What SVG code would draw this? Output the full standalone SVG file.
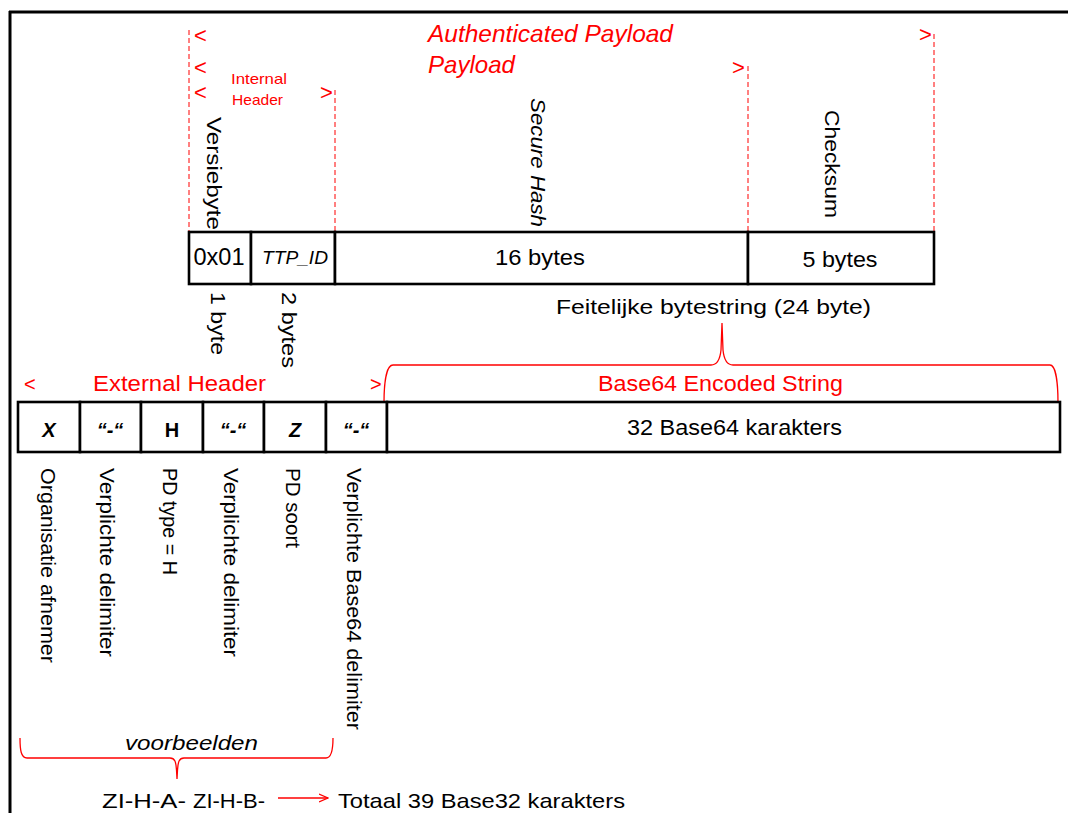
<svg xmlns="http://www.w3.org/2000/svg" width="1068" height="813" viewBox="0 0 1068 813">
<defs>
<style>
.t{font-family:"Liberation Sans",Arial,sans-serif;fill:#000}
.r{fill:#ff0000}
.i{font-style:italic}
.b{font-weight:bold}
.box{fill:#fff;stroke:#000;stroke-width:2.6}
.dash{stroke:#ff0000;stroke-width:1;stroke-dasharray:5,3;fill:none}
.brace{stroke:#ff0000;stroke-width:1.3;fill:none}
</style>
<marker id="ah" viewBox="0 0 10 10" refX="9" refY="5" markerWidth="10" markerHeight="10" markerUnits="userSpaceOnUse" orient="auto">
<path d="M0,1 L9,5 L0,9" fill="none" stroke="#ff0000" stroke-width="1.3"/>
</marker>
</defs>
<rect width="1068" height="813" fill="#fff"/>
<g id="frame">
<line x1="9" y1="12" x2="1068" y2="12" stroke="#000" stroke-width="3"/>
<line x1="10" y1="11" x2="10" y2="813" stroke="#000" stroke-width="3"/>
</g>
<g id="connectors">
<line class="dash" x1="189" y1="30" x2="189" y2="232"/>
<line class="dash" x1="335" y1="90" x2="335" y2="232"/>
<line class="dash" x1="748" y1="66" x2="748" y2="232"/>
<line class="dash" x1="934" y1="34" x2="934" y2="232"/>
<path class="brace" d="M384,403 C384,385 386,365 393,365 L711,365 C717,365 720,360 721,350 L722,323 L723,350 C724,360 727,365 733,365 L1050,365 C1056,365 1058,385 1058,403"/>
<path class="brace" d="M20,738 C20,750 21,758 27,758 L170,758 C175,758 176,762 176.5,770 L177,779 L177.5,770 C178,762 179,758 184,758 L326,758 C331,758 333,750 333,738"/>
<line x1="278" y1="798" x2="328" y2="798" stroke="#ff0000" stroke-width="1.3" marker-end="url(#ah)"/>
</g>
<g id="top-labels">
<text class="t r" x="194" y="43" font-size="22">&lt;</text>
<text class="t r" x="194" y="75" font-size="22">&lt;</text>
<text class="t r" x="194" y="100" font-size="22">&lt;</text>
<text class="t r" x="320" y="100" font-size="22">&gt;</text>
<text class="t r" x="732" y="75" font-size="22">&gt;</text>
<text class="t r" x="919" y="42" font-size="22">&gt;</text>
<text class="t r i" x="428" y="42" font-size="24" textLength="245" lengthAdjust="spacingAndGlyphs">Authenticated Payload</text>
<text class="t r i" x="428" y="73" font-size="24" textLength="87" lengthAdjust="spacingAndGlyphs">Payload</text>
<text class="t r" x="231" y="84" font-size="15" textLength="56" lengthAdjust="spacingAndGlyphs">Internal</text>
<text class="t r" x="232" y="105" font-size="15" textLength="51" lengthAdjust="spacingAndGlyphs">Header</text>
<text class="t" transform="translate(207,117) rotate(90)" font-size="21" textLength="113" lengthAdjust="spacingAndGlyphs">Versiebyte</text>
<text class="t i" transform="translate(531,98) rotate(90)" font-size="21" textLength="129" lengthAdjust="spacingAndGlyphs">Secure Hash</text>
<text class="t" transform="translate(825,110) rotate(90)" font-size="21" textLength="108" lengthAdjust="spacingAndGlyphs">Checksum</text>
</g>
<g id="node-versiebyte">
<rect class="box" x="189" y="232" width="62" height="52"/>
<text class="t" x="219" y="265" font-size="23" text-anchor="middle" textLength="51" lengthAdjust="spacingAndGlyphs">0x01</text>
</g>
<g id="node-ttpid">
<rect class="box" x="251" y="232" width="84" height="52"/>
<text class="t i" x="295" y="264" font-size="18" text-anchor="middle" textLength="66" lengthAdjust="spacingAndGlyphs">TTP_ID</text>
</g>
<g id="node-hash">
<rect class="box" x="335" y="232" width="413" height="52"/>
<text class="t" x="540" y="265" font-size="22" text-anchor="middle" textLength="90" lengthAdjust="spacingAndGlyphs">16 bytes</text>
</g>
<g id="node-checksum">
<rect class="box" x="748" y="232" width="186" height="52"/>
<text class="t" x="840" y="267" font-size="22" text-anchor="middle" textLength="75" lengthAdjust="spacingAndGlyphs">5 bytes</text>
</g>
<g id="mid-labels">
<text class="t" transform="translate(211,292) rotate(90)" font-size="21" textLength="63" lengthAdjust="spacingAndGlyphs">1 byte</text>
<text class="t" transform="translate(282,292) rotate(90)" font-size="21" textLength="76" lengthAdjust="spacingAndGlyphs">2 bytes</text>
<text class="t" x="556" y="314" font-size="21" textLength="315" lengthAdjust="spacingAndGlyphs">Feitelijke bytestring (24 byte)</text>
<text class="t r" x="24" y="391" font-size="20">&lt;</text>
<text class="t r" x="93" y="391" font-size="22" textLength="173" lengthAdjust="spacingAndGlyphs">External Header</text>
<text class="t r" x="370" y="391" font-size="20">&gt;</text>
<text class="t r" x="598" y="391" font-size="22" textLength="245" lengthAdjust="spacingAndGlyphs">Base64 Encoded String</text>
</g>
<g id="node-x">
<rect class="box" x="18" y="402" width="62" height="50"/>
<text class="t b i" x="49" y="437" font-size="20" text-anchor="middle">X</text>
</g>
<g id="node-d1">
<rect class="box" x="80" y="402" width="61" height="50"/>
<text class="t b i" x="110" y="437" font-size="20" text-anchor="middle">“-“</text>
</g>
<g id="node-h">
<rect class="box" x="141" y="402" width="62" height="50"/>
<text class="t b" x="172" y="437" font-size="20" text-anchor="middle">H</text>
</g>
<g id="node-d2">
<rect class="box" x="203" y="402" width="61" height="50"/>
<text class="t b i" x="233" y="437" font-size="20" text-anchor="middle">“-“</text>
</g>
<g id="node-z">
<rect class="box" x="264" y="402" width="62" height="50"/>
<text class="t b i" x="295" y="437" font-size="20" text-anchor="middle">Z</text>
</g>
<g id="node-d3">
<rect class="box" x="326" y="402" width="61" height="50"/>
<text class="t b i" x="356" y="437" font-size="20" text-anchor="middle">“-“</text>
</g>
<g id="node-base64">
<rect class="box" x="387" y="402" width="673" height="50"/>
<text class="t" x="627" y="435" font-size="22" textLength="215" lengthAdjust="spacingAndGlyphs">32 Base64 karakters</text>
</g>
<g id="bottom-labels">
<text class="t" transform="translate(41,468) rotate(90)" font-size="20" textLength="195" lengthAdjust="spacingAndGlyphs">Organisatie afnemer</text>
<text class="t" transform="translate(100,468) rotate(90)" font-size="20" textLength="189" lengthAdjust="spacingAndGlyphs">Verplichte delimiter</text>
<text class="t" transform="translate(163,468) rotate(90)" font-size="20" textLength="107" lengthAdjust="spacingAndGlyphs">PD type = H</text>
<text class="t" transform="translate(224,468) rotate(90)" font-size="20" textLength="189" lengthAdjust="spacingAndGlyphs">Verplichte delimiter</text>
<text class="t" transform="translate(286,468) rotate(90)" font-size="20" textLength="80" lengthAdjust="spacingAndGlyphs">PD soort</text>
<text class="t" transform="translate(347,468) rotate(90)" font-size="20" textLength="262" lengthAdjust="spacingAndGlyphs">Verplichte Base64 delimiter</text>
<text class="t i" x="125" y="750" font-size="21" textLength="133" lengthAdjust="spacingAndGlyphs">voorbeelden</text>
<text class="t" x="102" y="808" font-size="21" textLength="84" lengthAdjust="spacingAndGlyphs">ZI-H-A-</text>
<text class="t" x="193" y="808" font-size="21" textLength="72" lengthAdjust="spacingAndGlyphs">ZI-H-B-</text>
<text class="t" x="338" y="808" font-size="21" textLength="287" lengthAdjust="spacingAndGlyphs">Totaal 39 Base32 karakters</text>
</g>
</svg>
